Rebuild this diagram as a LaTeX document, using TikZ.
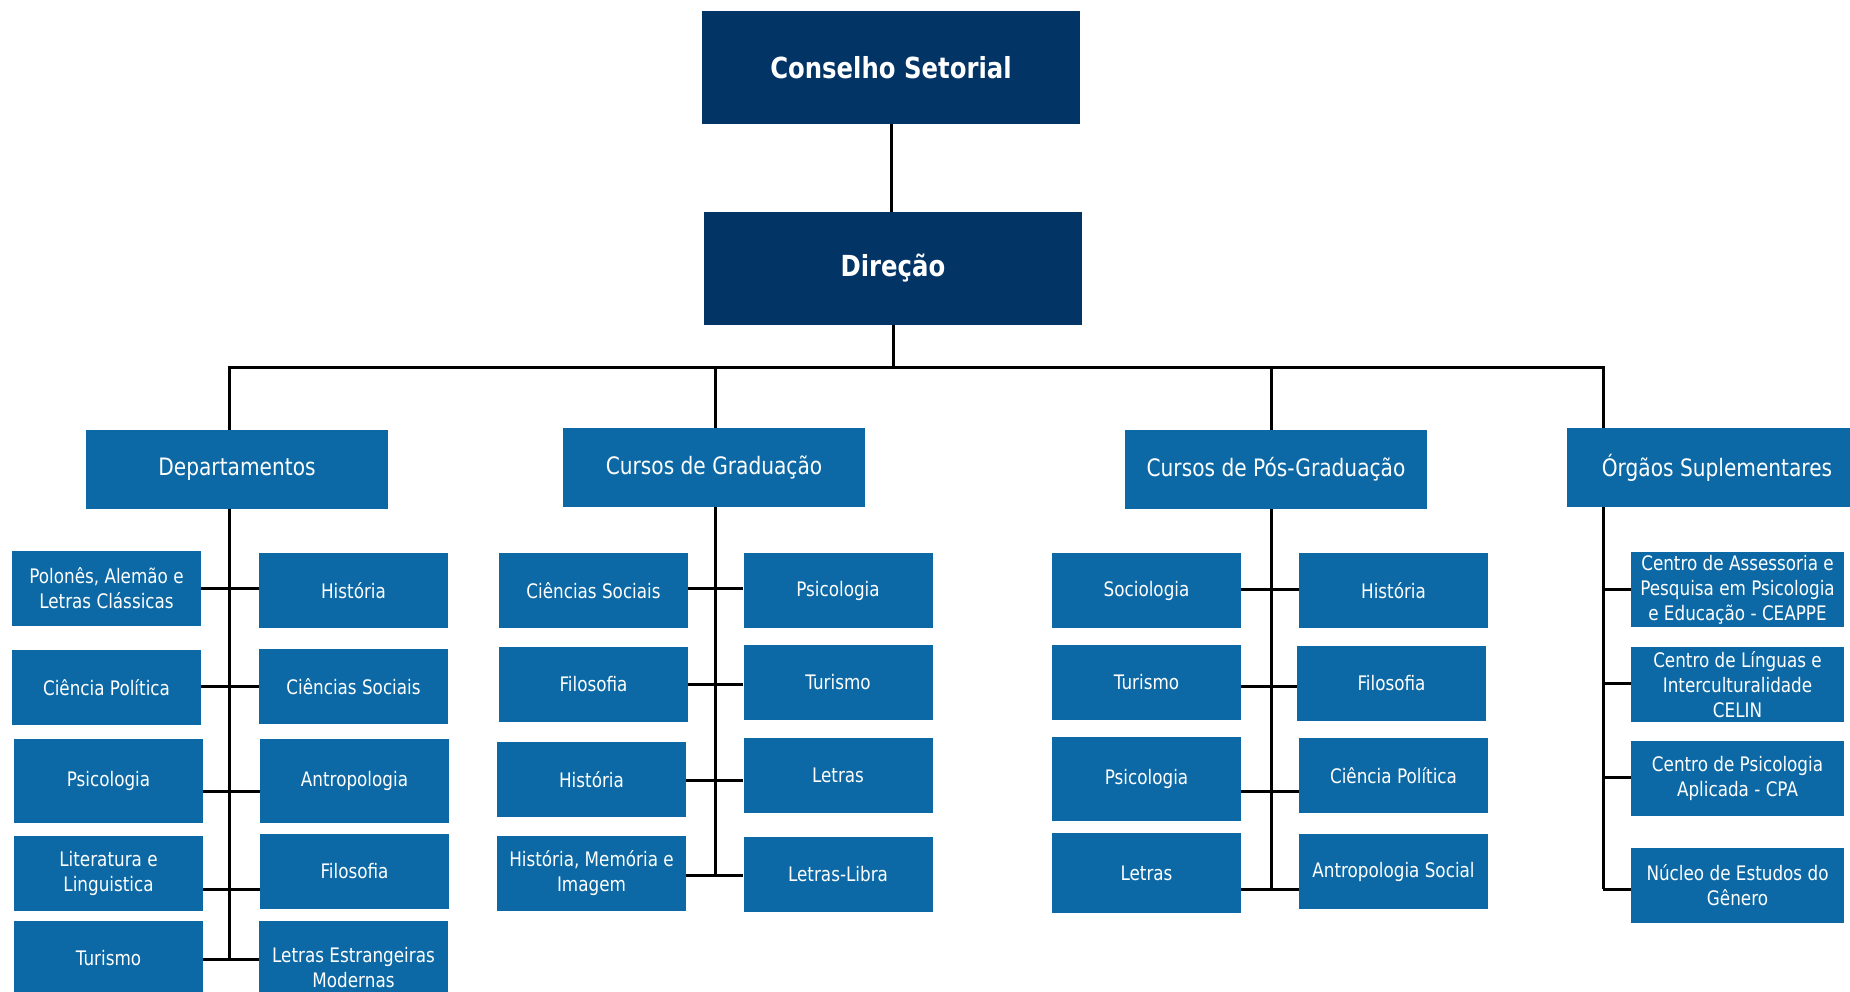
\documentclass[tikz,border=0pt]{standalone}
\usepackage{fontspec}
\setmainfont{DejaVu Sans}[FakeStretch=0.84]
\usetikzlibrary{positioning,backgrounds}
\definecolor{Navy}{HTML}{033466}
\definecolor{Cobalt}{HTML}{0C69A5}
\tikzset{
  chief/.style={fill=Navy, text=white, minimum width=378pt, minimum height=113pt, inner sep=0pt, font=\fontsize{29}{34}\selectfont\bfseries},
  group/.style={fill=Cobalt, text=white, minimum width=302pt, minimum height=79pt, inner sep=0pt, font=\fontsize{24}{29}\selectfont},
  unit/.style={fill=Cobalt, text=white, align=center, minimum width=189pt, minimum height=75pt, inner sep=0pt, font=\fontsize{20}{25}\selectfont},
  organ/.style={unit, minimum width=213pt},
  wire/.style={draw=black, line width=3pt}
}
\begin{document}
\begin{tikzpicture}[x=1pt, y=-1pt]
\useasboundingbox (0,0) rectangle (1850,992);
\clip (0,0) rectangle (1850,992);
\node[chief] (cs) at (891,67.5) {Conselho Setorial};
\node[chief] (dir) at (893,268.5) {Direção};
\coordinate (dtop) at (229,367);
\coordinate (gtop) at (715,367);
\coordinate (ptop) at (1271,367);
\coordinate (otop) at (1603,367);
\node[group] (dep) at (237,469.5) {Departamentos};
\node[group] (grad) at (714,467.5) {Cursos de Graduação};
\node[group] (pos) at (1276,469.5) {Cursos de Pós-Graduação};
\node[group, minimum width=300pt] (org) at (1717,467.5) {Órgãos Suplementares};
% departamentos
\node[unit] (dA) at (106.5,588.5) {Polonês, Alemão e\\Letras Clássicas};
\node[unit] (dB) at (353.5,590.5) {História};
\node[unit] (dC) at (106.5,687.5) {Ciência Política};
\node[unit] (dD) at (353.5,686.5) {Ciências Sociais};
\node[unit, minimum height=84pt] (dE) at (108.5,781) {Psicologia};
\node[unit, minimum height=84pt] (dF) at (354.5,781) {Antropologia};
\node[unit] (dG) at (108.5,873.5) {Literatura e\\Linguistica};
\node[unit] (dH) at (354.5,871.5) {Filosofia};
\node[unit] (dI) at (108.5,958.5) {Turismo};
\node[unit, minimum height=94pt] (dJ) at (353.5,968) {Letras Estrangeiras\\Modernas};
% graduacao
\node[unit] (gA) at (593.5,590.5) {Ciências Sociais};
\node[unit] (gB) at (838,590.5) {Psicologia};
\node[unit] (gC) at (593.5,684.5) {Filosofia};
\node[unit] (gD) at (838,682.5) {Turismo};
\node[unit] (gE) at (591.5,779.5) {História};
\node[unit] (gF) at (838,775.5) {Letras};
\node[unit] (gG) at (591.5,873.5) {História, Memória e\\Imagem};
\node[unit] (gH) at (838,874.5) {Letras-Libra};
% pos-graduacao
\node[unit] (pA) at (1146.5,590.5) {Sociologia};
\node[unit] (pB) at (1393.5,590.5) {História};
\node[unit] (pC) at (1146.5,682.5) {Turismo};
\node[unit] (pD) at (1391.5,683.5) {Filosofia};
\node[unit, minimum height=84pt] (pE) at (1146.5,779) {Psicologia};
\node[unit] (pF) at (1393.5,775.5) {Ciência Política};
\node[unit, minimum height=80pt] (pG) at (1146.5,873) {Letras};
\node[unit] (pH) at (1393.5,871.5) {Antropologia Social};
% orgaos
\node[organ] (oA) at (1737.5,589.5) {Centro de Assessoria e\\Pesquisa em Psicologia\\e Educação - CEAPPE};
\node[organ] (oB) at (1737.5,684.5) {Centro de Línguas e\\Interculturalidade\\CELIN};
\node[organ] (oC) at (1737.5,778.5) {Centro de Psicologia\\Aplicada - CPA};
\node[organ] (oD) at (1737.5,885.5) {Núcleo de Estudos do\\Gênero};
\begin{scope}[on background layer]
\draw[wire] (cs.south) -- (cs.south |- dir.north);
\draw[wire] (dir.south) -- (dir.south |- dtop);
\draw[wire] (dtop |- 0,959) -- (dtop) -- (otop) -- (otop |- 0,889);
\draw[wire] (gtop) -- (gtop |- 0,875);
\draw[wire] (ptop) -- (ptop |- 0,889);
\foreach \l/\r/\y in {dA/dB/588,dC/dD/686,dE/dF/791,dG/dH/889,dI/dJ/959,gA/gB/588,gC/gD/684,gE/gF/780,gG/gH/875,pA/pB/589,pC/pD/686,pE/pF/791,pG/pH/889}
  \draw[wire] (\l.east |- 0,\y) -- (\r.west |- 0,\y);
\foreach \n/\y in {oA/589,oB/683,oC/777,oD/889}
  \draw[wire] (otop |- 0,\y) -- (\n.west |- 0,\y);
\end{scope}
\end{tikzpicture}
\end{document}
